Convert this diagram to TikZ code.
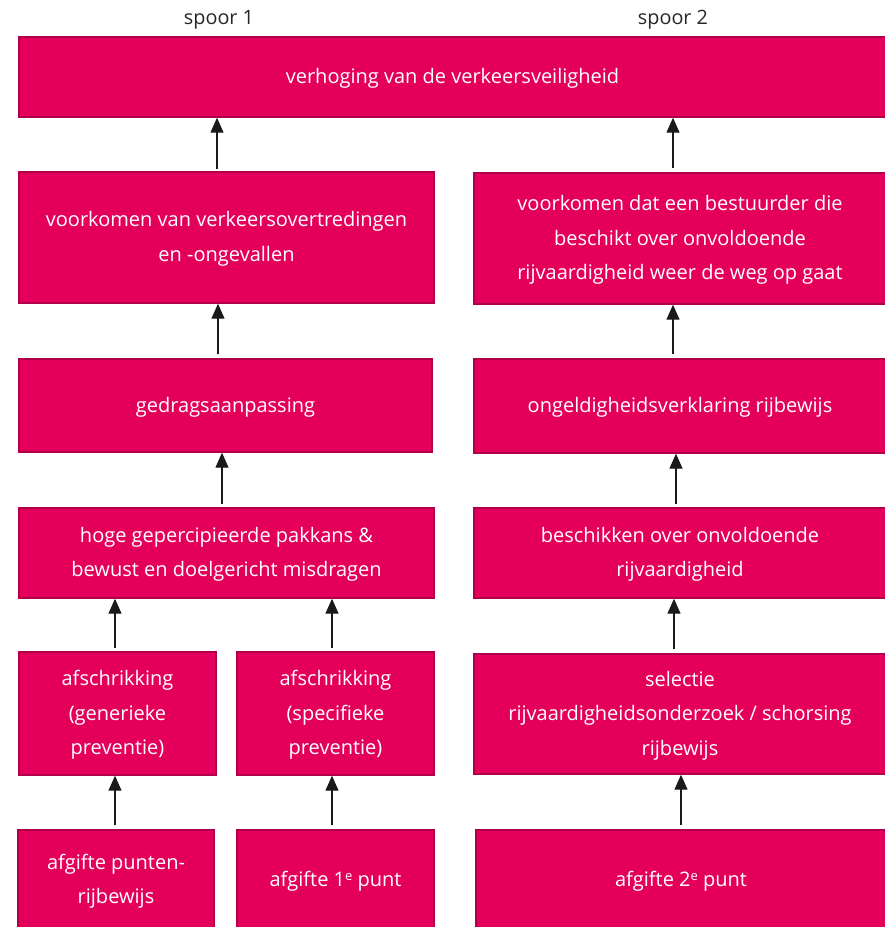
\documentclass[tikz,border=0pt]{standalone}
\usepackage{fontspec}
\setmainfont{Open Sans}
\usetikzlibrary{arrows.meta}
\definecolor{boxfill}{HTML}{E4005A}
\definecolor{boxline}{HTML}{B0004A}
\definecolor{arrcol}{HTML}{1A1A1A}
\definecolor{headcol}{HTML}{262626}
\newcommand{\supe}{\raisebox{6.5pt}{\fontsize{13}{13}\selectfont e}}
\tikzset{
  box/.style={draw=boxline, fill=boxfill, line width=1.4pt, text=white,
    align=center, inner sep=0pt, text depth=2pt,
    font=\fontsize{20}{34.5}\selectfont},
  head/.style={text=headcol, font=\fontsize{19.8}{22}\selectfont, inner sep=0pt},
  arr/.style={draw=arrcol, line width=1.3pt, -{Triangle[length=15pt,width=13pt]}}
}
\begin{document}
\begin{tikzpicture}[x=1pt,y=1pt]
\useasboundingbox (0,0) rectangle (885,-927);
\node[head] (s1) at (219,-20) {spoor 1};
\node[head] (s2) at (673,-20) {spoor 2};
\node[box, minimum width=867pt, minimum height=80pt] (top) at (452.5,-77) {verhoging van de verkeersveiligheid};
\node[box, minimum width=415pt, minimum height=131pt] (L2) at (226.5,-237.5) {voorkomen van verkeersovertredingen\\en -ongevallen};
\node[box, minimum width=412pt, minimum height=131pt] (R2) at (680,-238.5) {voorkomen dat een bestuurder die\\beschikt over onvoldoende\\rijvaardigheid weer de weg op gaat};
\node[box, minimum width=413pt, minimum height=93pt] (L3) at (225.5,-405.5) {gedragsaanpassing};
\node[box, minimum width=412pt, minimum height=94pt] (R3) at (680,-406) {ongeldigheidsverklaring rijbewijs};
\node[box, minimum width=415pt, minimum height=90pt] (L4) at (226.5,-553) {hoge gepercipieerde pakkans \&\\bewust en doelgericht misdragen};
\node[box, minimum width=412pt, minimum height=90pt] (R4) at (680,-553) {beschikken over onvoldoende\\rijvaardigheid};
\node[box, minimum width=197pt, minimum height=123pt] (L5a) at (117.5,-713.5) {afschrikking\\(generieke\\preventie)};
\node[box, minimum width=197pt, minimum height=123pt] (L5b) at (335.5,-713.5) {afschrikking\\(specifieke\\preventie)};
\node[box, minimum width=412pt, minimum height=120pt] (R5) at (680,-714) {selectie\\rijvaardigheidsonderzoek / schorsing\\rijbewijs};
\node[box, minimum width=196pt, minimum height=100pt] (L6a) at (116,-880) {afgifte punten-\\rijbewijs};
\node[box, minimum width=197pt, minimum height=100pt] (L6b) at (335.5,-880) {afgifte 1\supe{} punt};
\node[box, minimum width=410pt, minimum height=100pt] (R6) at (681,-880) {afgifte 2\supe{} punt};
\draw[arr] ([xshift=-9.5pt,yshift=2pt]L2.north) -- ([xshift=-235.5pt]top.south);
\draw[arr] ([xshift=-7pt,yshift=4pt]R2.north) -- ([xshift=220.5pt]top.south);
\draw[arr] ([xshift=-7.5pt,yshift=4pt]L3.north) -- ([xshift=-8.5pt]L2.south);
\draw[arr] ([xshift=-7pt,yshift=4pt]R3.north) -- ([xshift=-7pt]R2.south);
\draw[arr] ([xshift=-4.5pt,yshift=3pt]L4.north) -- ([xshift=-3.5pt]L3.south);
\draw[arr] ([xshift=-4pt,yshift=3pt]R4.north) -- ([xshift=-4pt]R3.south);
\draw[arr] ([xshift=-2.5pt,yshift=3pt]L5a.north) -- ([xshift=-111.5pt]L4.south);
\draw[arr] ([xshift=-3.5pt,yshift=3pt]L5b.north) -- ([xshift=105.5pt]L4.south);
\draw[arr] ([xshift=-6pt,yshift=4pt]R5.north) -- ([xshift=-6pt]R4.south);
\draw[arr] ([xshift=-1pt,yshift=4pt]L6a.north) -- ([xshift=-2.5pt]L5a.south);
\draw[arr] ([xshift=-3.5pt,yshift=4pt]L6b.north) -- ([xshift=-3.5pt]L5b.south);
\draw[arr] ([xshift=0pt,yshift=4pt]R6.north) -- ([xshift=1pt]R5.south);
\end{tikzpicture}
\end{document}
